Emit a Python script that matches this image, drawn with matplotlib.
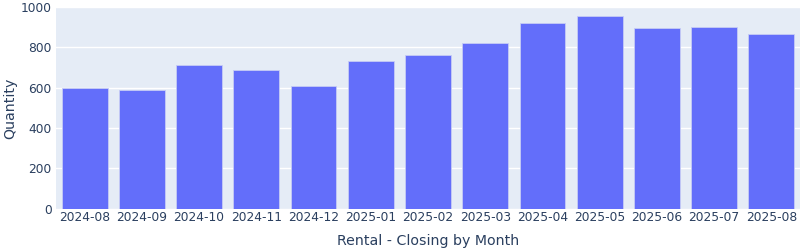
import matplotlib.pyplot as plt

# monthly closings
months = ['2024-08', '2024-09', '2024-10', '2024-11', '2024-12', '2025-01',
          '2025-02', '2025-03', '2025-04', '2025-05', '2025-06', '2025-07', '2025-08']
quantity = [598, 586, 713, 686, 610, 730, 763, 823, 920, 955, 896, 903, 865]

txt = '#2a3f5f'
plt.rcParams['font.family'] = 'DejaVu Sans'

fig = plt.figure(figsize=(8, 2.5), dpi=100)
ax = fig.add_axes([56 / 800, 1 - 208.5 / 250, 744 / 800, 201.5 / 250])
ax.set_facecolor('#E5ECF6')

x = list(range(len(months)))
ax.bar(x, quantity, width=0.8, color='#636efa', edgecolor='#C6CCF5', linewidth=0.6, zorder=3)

ax.set_xlim(-0.5, len(months) - 0.5)
ax.set_ylim(0, 1000)
ax.set_yticks([0, 200, 400, 600, 800, 1000])
ax.set_xticks(x)
ax.set_xticklabels(months)
ax.grid(axis='y', color='white', linewidth=1, zorder=1)
ax.set_axisbelow(True)
for s in ax.spines.values():
    s.set_visible(False)
ax.tick_params(axis='y', length=0, labelsize=8.8, colors=txt, pad=3)
ax.tick_params(axis='x', length=0, labelsize=8.8, colors=txt, pad=1.5)

fig.text(428 / 800, 1 - 241 / 250, 'Rental - Closing by Month', fontsize=10.2,
         color=txt, ha='center', va='center')
fig.text(10 / 800, 1 - 108 / 250, 'Quantity', fontsize=10.2, color=txt,
         ha='center', va='center', rotation=90)

fig.savefig('out.png', dpi=100)
